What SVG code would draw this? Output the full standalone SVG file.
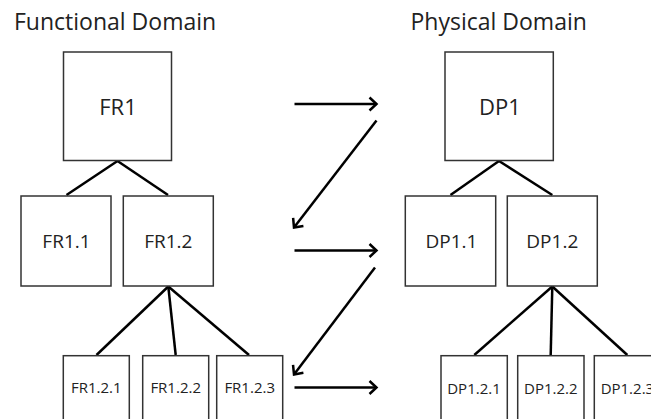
<svg xmlns="http://www.w3.org/2000/svg" width="651" height="419" viewBox="0 0 651 419">
<style>
.box{fill:#fff;stroke:#333;stroke-width:1.5}
.t{font-family:"Open Sans","Noto Sans",sans-serif;fill:#222;text-anchor:middle}
.title{font-family:"Open Sans","Noto Sans",sans-serif;fill:#222;font-size:23px}
.l1{font-size:22px}
.l2{font-size:19px}
.l3{font-size:15px}
.c{stroke:#000;stroke-width:2.5;fill:none}
</style>
<defs>
<marker id="ah" markerUnits="userSpaceOnUse" viewBox="-10 -8 12 16" markerWidth="12" markerHeight="16" refX="0" refY="0" orient="auto" overflow="visible">
<path d="M-7,-6.5 L0,0 L-7,6.5" fill="none" stroke="#000" stroke-width="2.5"/>
</marker>
</defs>
<rect width="651" height="419" fill="#fff"/>
<text class="title" x="14" y="30">Functional Domain</text>
<text class="title" x="410.5" y="30">Physical Domain</text>
<g id="connectors">
<line class="c" x1="117.5" y1="161" x2="66.5" y2="195"/>
<line class="c" x1="117.5" y1="161" x2="168" y2="195"/>
<line class="c" x1="168.3" y1="286.5" x2="96.5" y2="355"/>
<line class="c" x1="168.3" y1="286.5" x2="175.7" y2="355"/>
<line class="c" x1="168.3" y1="286.5" x2="249" y2="355"/>
<line class="c" x1="499" y1="161" x2="450.5" y2="195"/>
<line class="c" x1="499" y1="161" x2="552.3" y2="195"/>
<line class="c" x1="552.3" y1="286.5" x2="474.3" y2="355"/>
<line class="c" x1="552.3" y1="286.5" x2="550.7" y2="355"/>
<line class="c" x1="552.3" y1="286.5" x2="627.3" y2="355"/>
<line class="c" x1="294.5" y1="104" x2="376.5" y2="104" marker-end="url(#ah)"/>
<line class="c" x1="376.5" y1="120.5" x2="294" y2="227.5" marker-end="url(#ah)"/>
<line class="c" x1="294.5" y1="250.5" x2="376.5" y2="250.5" marker-end="url(#ah)"/>
<line class="c" x1="375" y1="267.5" x2="294" y2="374.5" marker-end="url(#ah)"/>
<line class="c" x1="294.5" y1="387.5" x2="376.5" y2="387.5" marker-end="url(#ah)"/>
</g>
<g id="FR1"><rect class="box" x="63.5" y="52" width="108" height="108.5"/><text class="t l1" x="118" y="114.5">FR1</text></g>
<g id="FR1.1"><rect class="box" x="21" y="196" width="90" height="90"/><text class="t l2" x="66.5" y="248">FR1.1</text></g>
<g id="FR1.2"><rect class="box" x="123.3" y="196" width="90" height="90"/><text class="t l2" x="168.3" y="248">FR1.2</text></g>
<g id="FR1.2.1"><rect class="box" x="63.3" y="355.7" width="66" height="80"/><text class="t l3" x="96.3" y="392.5">FR1.2.1</text></g>
<g id="FR1.2.2"><rect class="box" x="142.7" y="355.7" width="66" height="80"/><text class="t l3" x="175.7" y="392.5">FR1.2.2</text></g>
<g id="FR1.2.3"><rect class="box" x="216.7" y="355.7" width="66" height="80"/><text class="t l3" x="249.7" y="392.5">FR1.2.3</text></g>
<g id="DP1"><rect class="box" x="445" y="52" width="108.3" height="108.5"/><text class="t l1" x="500" y="114.5">DP1</text></g>
<g id="DP1.1"><rect class="box" x="405.3" y="196" width="90.4" height="90"/><text class="t l2" x="451.5" y="248">DP1.1</text></g>
<g id="DP1.2"><rect class="box" x="507.3" y="196" width="90" height="90"/><text class="t l2" x="552.3" y="248">DP1.2</text></g>
<g id="DP1.2.1"><rect class="box" x="441" y="355.7" width="66.3" height="80"/><text class="t l3" x="474" y="393.5">DP1.2.1</text></g>
<g id="DP1.2.2"><rect class="box" x="517.7" y="355.7" width="66.3" height="80"/><text class="t l3" x="550.8" y="393.5">DP1.2.2</text></g>
<g id="DP1.2.3"><rect class="box" x="594.3" y="355.7" width="66.3" height="80"/><text class="t l3" x="627.4" y="393.5">DP1.2.3</text></g>
</svg>
